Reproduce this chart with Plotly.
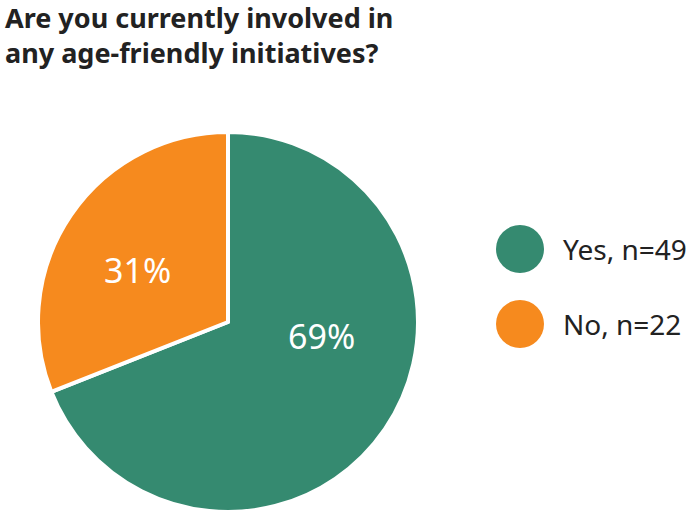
import plotly.graph_objects as go

title_lines = ["Are you currently involved in", "any age-friendly initiatives?"]
categories = ["Yes", "No"]
counts = [49, 22]
colors = ["#358A70", "#F68A1E"]

W, H = 686, 512
total = sum(counts)
pcts = [round(100 * c / total) for c in counts]
FONT = "Noto Sans, Open Sans, sans-serif"

fig = go.Figure()
fig.add_trace(go.Pie(
    labels=categories,
    values=counts,
    sort=False,
    direction="clockwise",
    rotation=0,
    marker=dict(colors=colors, line=dict(color="white", width=4)),
    textinfo="none",
    hoverinfo="label+percent",
    showlegend=False,
    domain=dict(x=[36 / W, 420 / W], y=[0, 1 - 132 / H]),
))

label_pos = [(321, 336), (137, 270)]
for p, (lx, ly) in zip(pcts, label_pos):
    fig.add_annotation(
        x=lx / W, y=1 - ly / H, xref="paper", yref="paper",
        text=f"{p}%", showarrow=False, xanchor="center", yanchor="middle",
        font=dict(family=FONT, size=34, color="white"),
    )

leg_y = [249, 324]
for cat, n, col, ly in zip(categories, counts, colors, leg_y):
    fig.add_shape(
        type="circle", xref="paper", yref="paper",
        x0=(520 - 24) / W, x1=(520 + 24) / W,
        y0=1 - (ly + 24) / H, y1=1 - (ly - 24) / H,
        fillcolor=col, line=dict(width=0),
    )
    fig.add_annotation(
        x=561 / W, y=1 - ly / H, xref="paper", yref="paper",
        text=f"{cat}, n={n}", showarrow=False, xanchor="left", yanchor="middle",
        font=dict(family=FONT, size=28, color="#222222"),
    )

fig.add_annotation(
    x=3 / W, y=1 + 3 / H, xref="paper", yref="paper",
    text="<b>" + "<br>".join(title_lines) + "</b>", showarrow=False,
    xanchor="left", yanchor="top", align="left",
    font=dict(family=FONT, size=27, color="#222222"),
)

fig.update_layout(
    width=W, height=H,
    margin=dict(l=0, r=0, t=0, b=0),
    paper_bgcolor="white", plot_bgcolor="white",
)

fig.write_html("out.html")
